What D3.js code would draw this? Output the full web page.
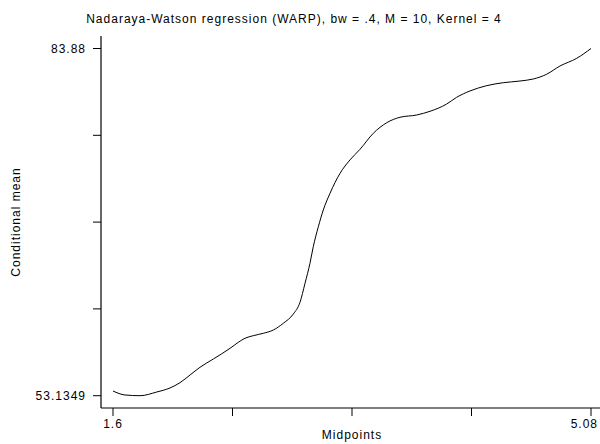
<!DOCTYPE html>
<html>
<head>
<meta charset="utf-8">
<script src="https://cdn.jsdelivr.net/npm/d3@7"></script>
<style>
  body { margin: 0; background: #fff; }
  svg text { font-family: "Liberation Sans", Arial, sans-serif; fill: #000; }
</style>
</head>
<body>
<div id="chart"></div>
<script>
// midpoints
const midpoints = [1.60, 1.687, 1.797, 1.918, 2.015, 2.088, 2.161, 2.233, 2.330, 2.452,
  2.512, 2.561, 2.621, 2.694, 2.767, 2.840, 2.913, 2.961, 2.998, 3.034,
  3.058, 3.095, 3.131, 3.180, 3.253, 3.325, 3.398, 3.495, 3.593, 3.689,
  3.811, 3.908, 4.029, 4.102, 4.199, 4.321, 4.441, 4.563, 4.660, 4.757,
  4.854, 4.976, 5.08];
// conditional mean at each midpoint
const condMean = [53.55, 53.20, 53.1349, 53.46, 53.82, 54.29, 54.97, 55.65, 56.38, 57.33,
  57.86, 58.22, 58.45, 58.66, 58.95, 59.55, 60.37, 61.39, 63.09, 64.86,
  66.33, 68.10, 69.58, 71.06, 72.83, 74.01, 74.95, 76.37, 77.31, 77.79,
  77.99, 78.32, 78.96, 79.56, 80.12, 80.59, 80.85, 81.00, 81.18, 81.60,
  82.33, 83.01, 83.88];
const xTicks = [1.6, 2.47, 3.34, 4.21, 5.08];
const xTickLabels = ["1.6", "", "", "", "5.08"];
const yTicks = [53.1349, 60.821175, 68.50745, 76.193725, 83.88];
const yTickLabels = ["53.1349", "", "", "", "83.88"];
const title = "Nadaraya-Watson regression (WARP), bw = .4, M = 10, Kernel = 4";

const width = 600, height = 444;
const axisX = 101, axisY = 408;

const svg = d3.select("#chart").append("svg")
    .attr("width", width)
    .attr("height", height);

const x = d3.scaleLinear().domain([1.6, 5.08]).range([113, 591]);
const y = d3.scaleLinear().domain([53.1349, 83.88]).range([395.7, 48.5]);

// axis lines
svg.append("line")
    .attr("x1", axisX).attr("x2", axisX)
    .attr("y1", 36).attr("y2", axisY)
    .attr("stroke", "#000").attr("stroke-width", 1.2);
svg.append("line")
    .attr("x1", axisX).attr("x2", 600)
    .attr("y1", axisY).attr("y2", axisY)
    .attr("stroke", "#000").attr("stroke-width", 1.2);

// y ticks
svg.selectAll(".ytick").data(yTicks).enter().append("line")
    .attr("x1", axisX - 8).attr("x2", axisX)
    .attr("y1", d => y(d)).attr("y2", d => y(d))
    .attr("stroke", "#000").attr("stroke-width", 1);
svg.selectAll(".ylab").data(yTicks).enter().append("text")
    .attr("x", axisX - 15)
    .attr("y", d => y(d))
    .attr("dy", "0.35em")
    .attr("text-anchor", "end")
    .style("font-size", "12px")
    .style("letter-spacing", "1px")
    .text((d, i) => yTickLabels[i]);

// x ticks
svg.selectAll(".xtick").data(xTicks).enter().append("line")
    .attr("x1", d => x(d)).attr("x2", d => x(d))
    .attr("y1", axisY).attr("y2", axisY + 8)
    .attr("stroke", "#000").attr("stroke-width", 1);
// last label is pushed in so it stays inside the frame
svg.selectAll(".xlab").data(xTicks).enter().append("text")
    .attr("x", (d, i) => i === xTicks.length - 1 ? 598 : x(d))
    .attr("y", axisY + 20)
    .attr("text-anchor", (d, i) => i === xTicks.length - 1 ? "end" : "middle")
    .style("font-size", "12px")
    .style("letter-spacing", "1px")
    .text((d, i) => xTickLabels[i]);

// curve
const line = d3.line()
    .x((d, i) => x(midpoints[i]))
    .y(d => y(d))
    .curve(d3.curveMonotoneX);
svg.append("path")
    .datum(condMean)
    .attr("d", line)
    .attr("fill", "none")
    .attr("stroke", "#000")
    .attr("stroke-width", 1);

// titles
svg.append("text")
    .attr("x", 294).attr("y", 23)
    .attr("text-anchor", "middle")
    .style("font-size", "12px")
    .style("letter-spacing", "1px")
    .text(title);
svg.append("text")
    .attr("x", 352).attr("y", 439)
    .attr("text-anchor", "middle")
    .style("font-size", "12px")
    .style("letter-spacing", "1px")
    .text("Midpoints");
svg.append("text")
    .attr("transform", "translate(20,222) rotate(-90)")
    .attr("text-anchor", "middle")
    .style("font-size", "12px")
    .style("letter-spacing", "1px")
    .text("Conditional mean");
</script>
</body>
</html>
